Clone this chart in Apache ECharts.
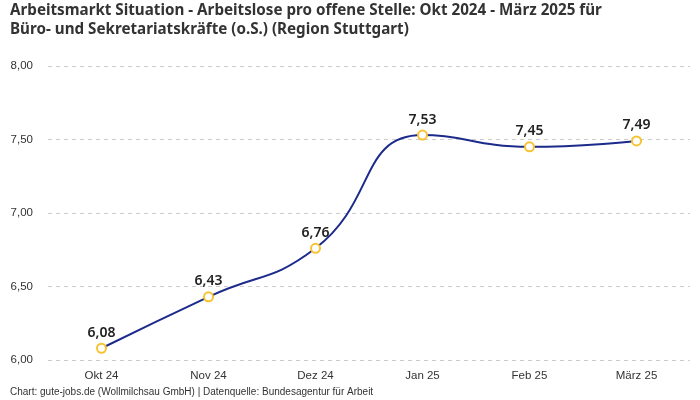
<!DOCTYPE html>
<html><head><meta charset="utf-8">
<script src="https://cdn.jsdelivr.net/npm/echarts@6/dist/echarts.min.js"></script>
<style>html,body{margin:0;padding:0;background:#fff}#c{width:700px;height:400px}</style>
</head><body><div id="c"></div>
<script>
const categories = ['Okt 24','Nov 24','Dez 24','Jan 25','Feb 25','März 25'];
const values = [6.08, 6.43, 6.76, 7.53, 7.45, 7.49];
const titleText = 'Arbeitsmarkt Situation - Arbeitslose pro offene Stelle: Okt 2024 - März 2025 für\nBüro- und Sekretariatskräfte (o.S.) (Region Stuttgart)';
const footerText = 'Chart: gute-jobs.de (Wollmilchsau GmbH) | Datenquelle: Bundesagentur für Arbeit';
const fmt = v => Number(v).toFixed(2).replace('.', ',');
const chart = echarts.init(document.getElementById('c'));
chart.setOption({
  animation: false,
  title: [{
    text: titleText, left: 10, top: 1, padding: 0,
    textStyle: {fontFamily: 'Noto Sans', fontWeight: 'bold', fontSize: 15.2, color: '#333', lineHeight: 19}
  }, {
    text: footerText, left: 10, top: 387, padding: 0,
    textStyle: {fontFamily: 'Liberation Sans', fontWeight: 'normal', fontSize: 10, color: '#333'}
  }],
  grid: {left: 48, right: 10, top: 66, bottom: 40},
  xAxis: {
    type: 'category', data: categories, boundaryGap: true,
    axisLine: {show: false}, axisTick: {show: false},
    axisLabel: {fontFamily: 'Liberation Sans', fontSize: 11.5, color: '#333', margin: 10}
  },
  yAxis: {
    type: 'value', min: 6, max: 8, interval: 0.5,
    axisLabel: {formatter: fmt, fontFamily: 'Liberation Sans', fontSize: 11.5, color: '#333', margin: 15},
    splitLine: {lineStyle: {type: [4, 4], color: '#ccc'}}
  },
  series: [{
    type: 'line', data: values, smooth: 0.5,
    lineStyle: {color: '#1c2a8c', width: 2},
    symbol: 'circle', symbolSize: 9,
    itemStyle: {color: '#fff', borderColor: '#f7c331', borderWidth: 2},
    label: {show: true, position: 'top', distance: 3, formatter: p => fmt(p.value),
      fontFamily: 'Noto Sans', fontWeight: 600, fontSize: 14, color: '#222'}
  }]
});
</script></body></html>
